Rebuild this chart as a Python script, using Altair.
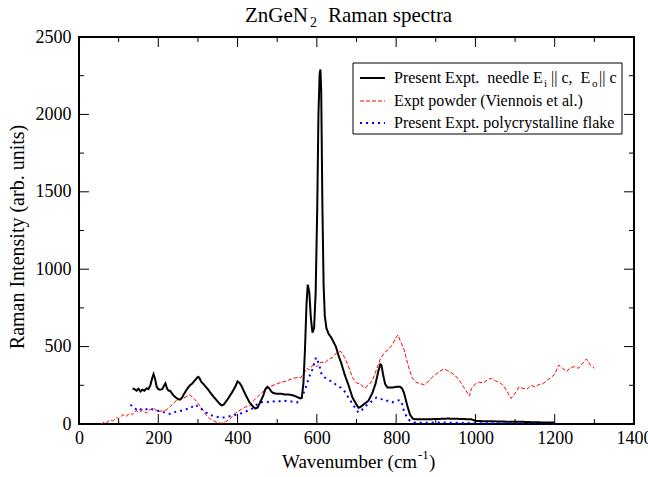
import altair as alt
import pandas as pd

FONT = "Liberation Serif"

# Present experiment, needle, E_i || c, E_o || c
needle_x = [135, 140, 145, 150, 155, 160, 165, 170, 175, 180, 185, 188, 192, 196, 200,
            205, 210, 215, 218, 222, 226, 230, 235, 240, 245, 250, 255, 260, 265, 270,
            275, 280, 285, 290, 295, 300, 303, 308, 315, 325, 335, 345, 355, 360, 365,
            375, 385, 395, 400, 405, 410, 420, 430, 440, 445, 450, 455, 465, 470, 475,
            480, 485, 490, 500, 510, 520, 530, 540, 550, 558, 562, 566, 570, 574, 577,
            581, 585, 589, 593, 597, 601, 604, 607, 609, 611, 614, 617, 620, 624, 630,
            636, 642, 648, 655, 662, 670, 680, 690, 700, 705, 710, 720, 730, 740, 748,
            755, 760, 763, 767, 772, 778, 790, 800, 810, 815, 820, 828, 835, 842, 850,
            870, 900, 930, 960, 990, 1000, 1020, 1050, 1080, 1110, 1140, 1170, 1200]
needle_y = [230, 225, 215, 228, 210, 222, 215, 230, 225, 250, 300, 322, 290, 240, 225,
            222, 225, 250, 262, 230, 215, 215, 195, 180, 170, 160, 158, 170, 195, 215,
            235, 250, 260, 275, 290, 305, 300, 275, 255, 225, 190, 160, 130, 120, 125,
            160, 200, 245, 275, 265, 245, 190, 140, 110, 100, 105, 130, 185, 225, 240,
            230, 210, 200, 195, 195, 190, 190, 185, 175, 165, 170, 260, 480, 780, 900,
            850, 680, 590, 620, 850, 1400, 2000, 2260, 2290, 2150, 1400, 900, 700, 620, 580,
            560, 530, 500, 440, 390, 320, 250, 170, 125, 105, 110, 130, 150, 200, 260,
            340, 385, 380, 320, 260, 235, 235, 240, 240, 230, 200, 120, 60, 35, 30,
            30, 32, 35, 33, 30, 20, 18, 17, 15, 15, 12, 10, 10]

# Powder spectrum (Viennois et al.)
powder_x = [55, 60, 65, 70, 75, 80, 85, 90, 95, 100, 105, 110, 115, 120, 125, 130, 135,
            140, 145, 150, 155, 160, 165, 170, 175, 180, 185, 190, 195, 200, 210, 220,
            230, 240, 250, 260, 270, 280, 285, 290, 300, 310, 320, 330, 340, 350, 360,
            370, 380, 390, 400, 410, 420, 430, 440, 450, 460, 470, 480, 490, 500, 510,
            520, 530, 540, 550, 560, 570, 575, 580, 590, 600, 610, 620, 630, 640, 650,
            660, 670, 680, 690, 700, 710, 720, 730, 740, 750, 760, 770, 780, 790, 800,
            805, 810, 820, 830, 840, 850, 860, 870, 880, 890, 900, 910, 920, 930, 940,
            950, 960, 970, 980, 985, 990, 1000, 1010, 1020, 1030, 1040, 1050, 1060, 1070,
            1080, 1090, 1100, 1110, 1120, 1130, 1140, 1150, 1160, 1170, 1180, 1190, 1200,
            1210, 1220, 1230, 1240, 1250, 1260, 1270, 1280, 1285, 1290, 1300]
powder_y = [0, 5, 15, 10, 20, 25, 20, 30, 40, 35, 45, 60, 55, 50, 65, 70, 60,
            80, 85, 75, 80, 90, 80, 70, 85, 95, 90, 100, 85, 80, 85, 90,
            110, 140, 160, 165, 175, 190, 175, 165, 135, 100, 60, 35, 20, 8, 5,
            15, 30, 60, 80, 95, 110, 115, 150, 175, 200, 220, 240, 250, 260, 270,
            275, 285, 295, 300, 300, 340, 360, 350, 380, 370, 400, 395, 420, 430, 460,
            470, 430, 370, 300, 265, 260, 230, 250, 280, 350, 420, 460, 480, 510, 560,
            575, 540, 480, 380, 300, 270, 260, 255, 270, 300, 320, 340, 355, 345, 330,
            310, 280, 240, 200, 180, 230, 260, 270, 265, 285, 295, 280, 270, 250,
            210, 165, 200, 240, 230, 225, 250, 240, 255, 260, 280, 300, 320,
            380, 360, 340, 365, 370, 360, 390, 420, 400, 380, 360]

# Present experiment, polycrystalline flake
flake_x = [130, 135, 140, 145, 150, 155, 160, 170, 180, 190, 200, 210, 220, 230, 240,
           250, 260, 270, 280, 290, 295, 300, 310, 320, 330, 340, 350, 360, 370, 380,
           390, 400, 410, 420, 430, 440, 450, 460, 470, 480, 490, 500, 510, 520, 530,
           540, 550, 560, 570, 580, 590, 598, 605, 612, 620, 630, 640, 650, 660, 670,
           680, 690, 700, 705, 710, 720, 730, 740, 750, 760, 770, 780, 790, 800, 810,
           815, 820, 828, 835, 845, 870, 900, 950, 1000, 1050, 1100, 1150, 1200]
flake_y = [125, 110, 100, 95, 105, 95, 90, 95, 100, 90, 85, 80, 70, 65, 75,
           85, 85, 95, 100, 120, 125, 110, 95, 75, 60, 50, 45, 40, 45, 50,
           55, 65, 70, 80, 90, 105, 130, 140, 145, 140, 145, 150, 145, 150, 145,
           145, 140, 160, 220, 300, 360, 430, 390, 320, 300, 285, 270, 250, 235, 210,
           170, 130, 90, 75, 80, 110, 130, 150, 170, 165, 150, 150, 140, 150, 155,
           130, 80, 40, 20, 10, 8, 10, 8, 5, 5, 3, 3, 2]

x_major = [0, 200, 400, 600, 800, 1000, 1200, 1400]
x_minor = [100, 300, 500, 700, 900, 1100, 1300]
y_major = [0, 500, 1000, 1500, 2000, 2500]
y_minor = [250, 750, 1250, 1750, 2250]

NB = "\u00a0"
legend_labels = ["Present Expt." + NB + " needle E", "i", "|| c," + NB + " E", "o", "|| c",
                 "Expt powder (Viennois et al.)",
                 "Present Expt. polycrystalline flake"]

W, H = 555, 387
MAJOR, MINOR = 10, 5
LEG = 16

xs = alt.Scale(domain=[0, 1400], nice=False, zero=False)
ys = alt.Scale(domain=[0, 2500], nice=False, zero=False)

x_axis = alt.Axis(values=x_major, ticks=False, domain=False, grid=False,
                  labelFont=FONT, labelFontSize=18, labelColor="black",
                  labelPadding=5, labelFlush=False, labelOverlap=False,
                  format="d", title=None)
y_axis = alt.Axis(values=y_major, ticks=False, domain=False, grid=False,
                  labelFont=FONT, labelFontSize=18, labelColor="black",
                  labelPadding=8, labelFlush=False, labelOverlap=False,
                  format="d", title=None)


def spectrum(xv, yv, color, width, dash):
    df = pd.DataFrame({"x": xv, "y": yv})
    return alt.Chart(df).mark_line(color=color, strokeWidth=width,
                                   strokeDash=dash, strokeCap="butt").encode(
        x=alt.X("x:Q", scale=xs, axis=x_axis),
        y=alt.Y("y:Q", scale=ys, axis=y_axis),
        order="x:Q",
    )


def xticks(values, length, side):
    df = pd.DataFrame({"x": values})
    y0 = H if side == "bottom" else 0
    y1 = H - length if side == "bottom" else length
    return alt.Chart(df).mark_rule(color="black", strokeWidth=1).encode(
        x=alt.X("x:Q", scale=xs, axis=x_axis), y=alt.value(y0), y2=alt.value(y1))


def yticks(values, length, side):
    df = pd.DataFrame({"y": values})
    x0 = 0 if side == "left" else W
    x1 = length if side == "left" else W - length
    return alt.Chart(df).mark_rule(color="black", strokeWidth=1).encode(
        y=alt.Y("y:Q", scale=ys, axis=y_axis), x=alt.value(x0), x2=alt.value(x1))


def label(txt, x, y, size, align="left", baseline="alphabetic", angle=0):
    df = pd.DataFrame({"t": [txt]})
    return alt.Chart(df).mark_text(font=FONT, fontSize=size, color="black",
                                   align=align, baseline=baseline, angle=angle).encode(
        x=alt.value(x), y=alt.value(y), text="t:N")


def sample(y, color, width, dash):
    df = pd.DataFrame({"k": [0]})
    return alt.Chart(df).mark_rule(color=color, strokeWidth=width,
                                   strokeDash=dash, strokeCap="butt").encode(
        x=alt.value(281), x2=alt.value(306), y=alt.value(y))


lines = [
    spectrum(powder_x, powder_y, "#ff0000", 1, [4, 2]),
    spectrum(flake_x, flake_y, "#0000ff", 2, [2, 4]),
    spectrum(needle_x, needle_y, "black", 2, [1, 0]),
]

ticks = [
    xticks(x_major, MAJOR, "bottom"), xticks(x_minor, MINOR, "bottom"),
    xticks(x_major, MAJOR, "top"), xticks(x_minor, MINOR, "top"),
    yticks(y_major, MAJOR, "left"), yticks(y_minor, MINOR, "left"),
    yticks(y_major, MAJOR, "right"), yticks(y_minor, MINOR, "right"),
]

texts = [
    # title: ZnGeN2  Raman spectra
    label("ZnGeN", 166, -15, 21),
    label("2", 231, -10, 14),
    label("Raman spectra", 249, -15, 21),
    # axis titles
    label("Wavenumber (cm", 203, 431, 19),
    label("-1", 339, 422, 13),
    label(")", 350, 431, 19),
    label("Raman Intensity (arb. units)", -61, 200, 20, align="center",
          baseline="middle", angle=270),
]

legend_box = alt.Chart(pd.DataFrame({"k": [0]})).mark_rect(
    fill="white", stroke="black", strokeWidth=1).encode(
    x=alt.value(274), x2=alt.value(543), y=alt.value(26), y2=alt.value(97))

legend = [
    legend_box,
    sample(41, "black", 2, [1, 0]),
    sample(64, "#ff0000", 1, [4, 2]),
    sample(86, "#0000ff", 2, [2, 4]),
    label(legend_labels[0], 315, 46, LEG),
    label(legend_labels[1], 465, 50, 11),
    label(legend_labels[2], 472, 46, LEG),
    label(legend_labels[3], 513, 50, 11),
    label(legend_labels[4], 520, 46, LEG),
    label(legend_labels[5], 315, 69, LEG),
    label(legend_labels[6], 315, 91, LEG),
]

chart = alt.layer(*lines, *ticks, *texts, *legend).properties(
    width=W, height=H,
    autosize=alt.AutoSizeParams(type="none"),
    padding={"left": 79, "top": 37, "right": 14, "bottom": 53},
    background="white",
).configure_view(
    stroke="black", strokeWidth=2
).configure_axis(
    labelFont=FONT, labelFontSize=18, labelColor="black"
).configure_text(font=FONT)

chart.save("out.html", embed_options={"renderer": "svg", "actions": False})
